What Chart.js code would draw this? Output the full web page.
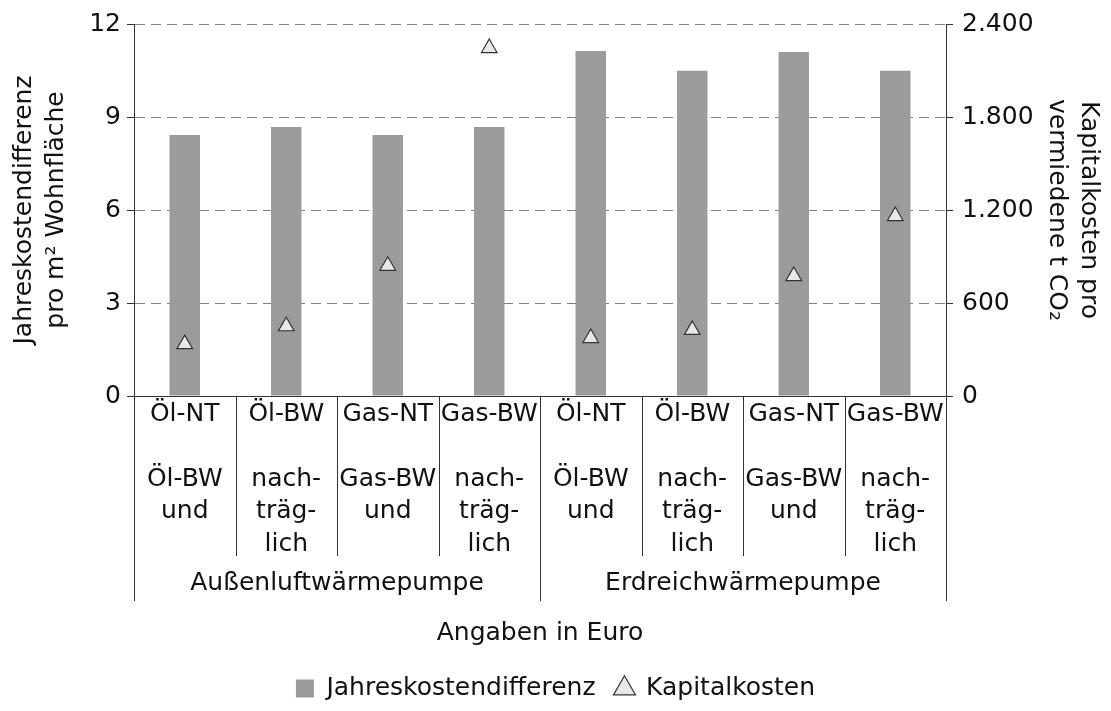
<!DOCTYPE html>
<html>
<head>
<meta charset="utf-8">
<script src="https://cdn.jsdelivr.net/npm/chart.js@4"></script>
<style>
  html, body { margin: 0; padding: 0; background: #fff; }
  #wrap { width: 1111px; height: 711px; }
</style>
</head>
<body>
<div id="wrap"><canvas id="myChart" width="1111" height="711"></canvas></div>
<script>
// category labels, as they appear under the axis (line by line)
var categories = [
    ["Öl-NT", "", "Öl-BW", "und"],
    ["Öl-BW", "", "nach-", "träg-", "lich"],
    ["Gas-NT", "", "Gas-BW", "und"],
    ["Gas-BW", "", "nach-", "träg-", "lich"],
    ["Öl-NT", "", "Öl-BW", "und"],
    ["Öl-BW", "", "nach-", "träg-", "lich"],
    ["Gas-NT", "", "Gas-BW", "und"],
    ["Gas-BW", "", "nach-", "träg-", "lich"]
];
var groups = ["Außenluftwärmepumpe", "Erdreichwärmepumpe"];
var groupSize = 4;

var jahreskosten = [8.42, 8.68, 8.42, 8.68, 11.13, 10.49, 11.1, 10.49];
var kapitalkosten = [335, 450, 840, 2245, 374, 426, 774, 1161];

var leftTicks = [0, 3, 6, 9, 12];
var rightTicks = [0, 600, 1200, 1800, 2400];

var FONT = "'DejaVu Sans', sans-serif";
var TEXT = '#111';
var LINE = '#333';

Chart.defaults.font.family = FONT;
Chart.defaults.color = TEXT;

// draws the two-level category axis below the plot
var categoryAxis = {
    id: 'categoryAxis',
    afterDraw: function (chart) {
        var ctx = chart.ctx;
        var xs = chart.scales.x;
        var area = chart.chartArea;
        var base = area.bottom;
        ctx.save();
        ctx.font = '25px ' + FONT;
        ctx.fillStyle = TEXT;
        ctx.textAlign = 'center';
        ctx.textBaseline = 'middle';
        categories.forEach(function (lines, i) {
            var x = xs.getPixelForValue(i);
            lines.forEach(function (t, k) {
                ctx.fillText(t, x, base + 18 + k * 32.5);
            });
        });
        ctx.strokeStyle = LINE;
        ctx.lineWidth = 1;
        for (var i = 0; i <= categories.length; i++) {
            var x;
            if (i === 0) x = area.left;
            else if (i === categories.length) x = area.right;
            else x = (xs.getPixelForValue(i - 1) + xs.getPixelForValue(i)) / 2;
            var major = (i % groupSize === 0);
            ctx.beginPath();
            ctx.moveTo(Math.round(x) + 0.5, base);
            ctx.lineTo(Math.round(x) + 0.5, base + (major ? 205 : 160));
            ctx.stroke();
        }
        groups.forEach(function (g, j) {
            var a = j * groupSize;
            var b = a + groupSize - 1;
            var x0 = a === 0 ? area.left : (xs.getPixelForValue(a - 1) + xs.getPixelForValue(a)) / 2;
            var x1 = b === categories.length - 1 ? area.right : (xs.getPixelForValue(b) + xs.getPixelForValue(b + 1)) / 2;
            ctx.fillText(g, (x0 + x1) / 2, base + 187);
        });
        ctx.restore();
    }
};

function germanNumber(v) {
    return String(v).replace(/\B(?=(\d{3})+(?!\d))/g, '.');
}

var ctx = document.getElementById("myChart").getContext('2d');
var myChart = new Chart(ctx, {
    type: 'bar',
    data: {
        labels: categories.map(function (c) { return c.join(' '); }),
        datasets: [{
            label: 'Jahreskostendifferenz',
            data: jahreskosten,
            backgroundColor: '#9b9b9b',
            borderWidth: 0,
            barPercentage: 0.3,
            categoryPercentage: 1,
            pointStyle: 'rect',
            yAxisID: 'y',
            order: 1
        }, {
            type: 'line',
            label: 'Kapitalkosten',
            data: kapitalkosten,
            showLine: false,
            pointStyle: 'triangle',
            pointRadius: 9,
            pointHoverRadius: 9,
            backgroundColor: '#e8e8e8',
            borderColor: LINE,
            borderWidth: 1.2,
            yAxisID: 'y1',
            order: 0
        }]
    },
    plugins: [categoryAxis],
    options: {
        responsive: false,
        animation: false,
        devicePixelRatio: 1,
        layout: { padding: { top: 12, left: 0, right: 0, bottom: 0 } },
        plugins: {
            legend: {
                position: 'bottom',
                labels: {
                    usePointStyle: true,
                    boxWidth: 18,
                    boxHeight: 18,
                    padding: 20,
                    color: TEXT,
                    font: { size: 25, family: FONT },
                    sort: function (a, b) { return a.datasetIndex - b.datasetIndex; }
                }
            },
            tooltip: { enabled: false }
        },
        scales: {
            x: {
                grid: { display: false },
                border: { display: true, color: LINE, width: 1 },
                ticks: { display: false },
                title: {
                    display: true,
                    text: 'Angaben in Euro',
                    color: TEXT,
                    font: { size: 25, family: FONT },
                    padding: { top: 0, bottom: 8 }
                },
                afterFit: function (scale) { scale.height = 260; }
            },
            y: {
                position: 'left',
                min: 0,
                max: 12,
                afterBuildTicks: function (scale) {
                    scale.ticks = leftTicks.map(function (v) { return { value: v }; });
                },
                ticks: {
                    color: TEXT,
                    padding: 6,
                    font: { size: 25, family: FONT }
                },
                grid: {
                    color: '#808080',
                    lineWidth: 1,
                    tickLength: 7,
                    tickColor: LINE,
                    tickBorderDash: [],
                    drawTicks: true
                },
                border: { display: true, color: LINE, width: 1, dash: [10, 6] },
                title: {
                    display: true,
                    text: ['Jahreskostendifferenz', 'pro m² Wohnfläche'],
                    color: TEXT,
                    font: { size: 25, family: FONT, lineHeight: 1.28 },
                    padding: { top: 8, bottom: 0 }
                },
                afterFit: function (scale) { scale.width = 134; }
            },
            y1: {
                position: 'right',
                min: 0,
                max: 2400,
                afterBuildTicks: function (scale) {
                    scale.ticks = rightTicks.map(function (v) { return { value: v }; });
                },
                ticks: {
                    color: TEXT,
                    padding: 9,
                    font: { size: 25, family: FONT },
                    callback: function (v) { return germanNumber(v); }
                },
                grid: {
                    drawOnChartArea: false,
                    tickLength: 7,
                    tickColor: LINE
                },
                border: { display: true, color: LINE, width: 1 },
                title: {
                    display: true,
                    text: ['Kapitalkosten pro', 'vermiedene t CO₂'],
                    color: TEXT,
                    font: { size: 25, family: FONT, lineHeight: 1.28 },
                    padding: { top: 7, bottom: 0 }
                },
                afterFit: function (scale) { scale.width = 165; }
            }
        }
    }
});
</script>
</body>
</html>
